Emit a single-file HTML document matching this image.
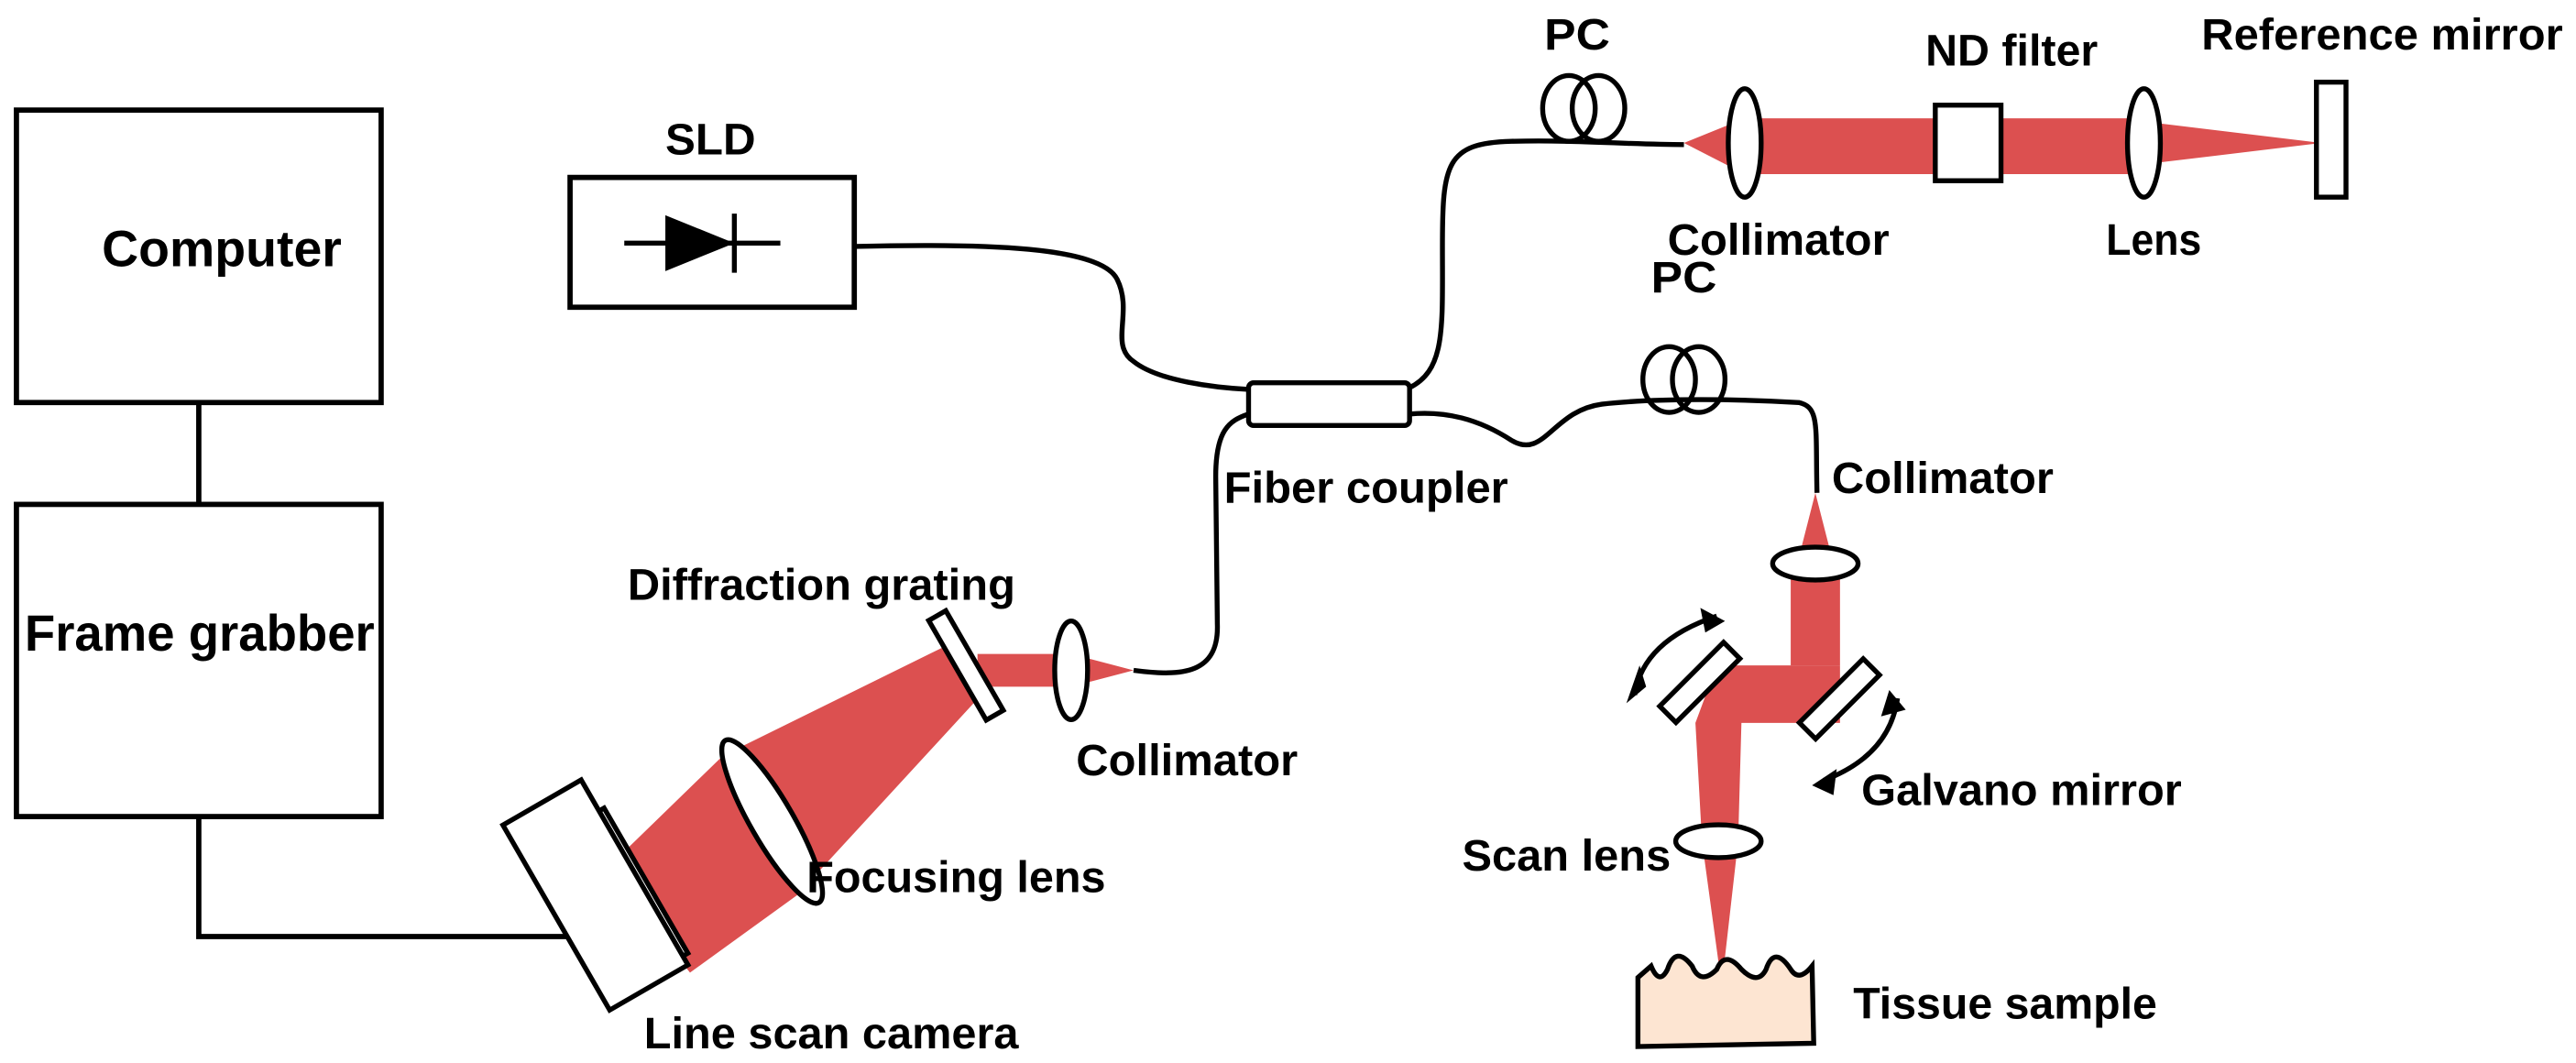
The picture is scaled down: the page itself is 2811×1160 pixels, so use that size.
<!DOCTYPE html>
<html><head><style>html,body{margin:0;padding:0;background:#fff}svg{display:block}text{font-family:"Liberation Sans",Arial,sans-serif;font-weight:bold;fill:#000}</style></head>
<body>
<svg width="2811" height="1160" viewBox="0 0 1568 647" preserveAspectRatio="none" xmlns="http://www.w3.org/2000/svg">
<g fill="none" stroke="#000" stroke-width="3.2">
<rect x="10" y="67" width="222" height="178"/>
<rect x="10" y="307" width="222" height="190"/>
<line x1="121" y1="245" x2="121" y2="307"/>
<polyline points="121,497 121,570 345,570"/>
<rect x="347" y="108" width="173" height="79"/>
</g>
<line x1="380" y1="148" x2="475" y2="148" stroke="#000" stroke-width="3"/>
<polygon points="405,131 447,148 405,165" fill="#000"/>
<line x1="447" y1="130" x2="447" y2="166" stroke="#000" stroke-width="3"/>
<g fill="#dc5050">
<polygon points="1025,87 1062,72 1300,72 1300,106 1062,106"/>
<polygon points="1305,74 1413,87 1305,100"/>
<polygon points="690,408 652,398 595,398 595,418 652,418"/>
<polygon points="578,392 440,460 370,528 420,592 485,545 600,420"/>
<polygon points="1105,300 1094,343 1116,343"/>
<rect x="1090" y="343" width="30" height="62"/>
<polygon points="1120,405 1120,440 1060,440 1058,512 1036,512 1032,440 1045,405"/>
<polygon points="1036,512 1048,600 1058,512"/>
</g>
<g fill="#fff" stroke="#000" stroke-width="3">
<ellipse cx="1062" cy="87" rx="10" ry="33"/>
<rect x="1178" y="64" width="40" height="46"/>
<ellipse cx="1305" cy="87" rx="10" ry="33"/>
<rect x="1410" y="50" width="18" height="70"/>
<ellipse cx="652" cy="408" rx="10" ry="30"/>
<rect x="582" y="370" width="12" height="70" transform="rotate(-30 588 405)"/>
<ellipse cx="470" cy="500" rx="13" ry="57" transform="rotate(-30 470 500)"/>
<rect x="382" y="488" width="12" height="102" transform="rotate(-30 388 539)"/>
<rect x="335" y="480" width="55" height="130" transform="rotate(-30 362 545)"/>
<ellipse cx="1105" cy="343" rx="26" ry="10"/>
<rect x="1028" y="388" width="14" height="55" transform="rotate(45 1035 415)"/>
<rect x="1113" y="398" width="14" height="55" transform="rotate(45 1120 425)"/>
<ellipse cx="1046" cy="512" rx="26" ry="10"/>
<rect x="760" y="233" width="98" height="26" rx="3"/>
</g>
<path d="M997,595 L997,637 L1104,635 L1103,588 Q1095,598 1090,590 Q1080,575 1075,590 Q1070,600 1060,590 Q1050,578 1045,590 Q1035,600 1030,588 Q1020,575 1015,590 Q1010,600 1005,588 Z" fill="#fde5d2" stroke="#000" stroke-width="3"/>
<g fill="none" stroke="#000" stroke-width="3">
<path d="M520,150 C600,148 670,150 680,170 C690,190 675,210 690,220 C705,232 740,236 760,237"/>
<path d="M858,236 C880,225 878,200 878,150 C878,100 880,87 920,86 C960,85 990,88 1025,88"/>
<ellipse cx="955" cy="66" rx="16" ry="20"/><ellipse cx="973" cy="66" rx="16" ry="20"/>
<path d="M858,252 C880,250 900,255 920,268 C940,280 945,250 975,246 C1010,242 1060,243 1095,245 C1108,248 1105,260 1106,300"/>
<ellipse cx="1016" cy="231" rx="16" ry="20"/><ellipse cx="1034" cy="231" rx="16" ry="20"/>
<path d="M760,252 C748,256 740,262 740,290 L741,380 C742,410 720,412 690,408"/>
<path d="M995,423 Q1000,390 1045,375"/>
<path d="M1110,475 Q1150,460 1155,425"/>
</g>
<g fill="#000">
<polygon points="1050,378 1035,370 1038,385"/>
<polygon points="990,428 1002,418 998,405 " />
<polygon points="1150,420 1160,432 1145,436"/>
<polygon points="1103,478 1118,468 1116,484"/>
</g>
<g font-size="27">
<text x="62" y="162" font-size="31" textLength="146" lengthAdjust="spacingAndGlyphs">Computer</text>
<text x="15" y="396" font-size="31" textLength="213" lengthAdjust="spacingAndGlyphs">Frame grabber</text>
<text x="405" y="94" textLength="55" lengthAdjust="spacingAndGlyphs">SLD</text>
<text x="940" y="30" textLength="40" lengthAdjust="spacingAndGlyphs">PC</text>
<text x="1172" y="40">ND filter</text>
<text x="1340" y="30" textLength="220" lengthAdjust="spacingAndGlyphs">Reference mirror</text>
<text x="1015" y="155" textLength="135" lengthAdjust="spacingAndGlyphs">Collimator</text>
<text x="1282" y="155" textLength="58" lengthAdjust="spacingAndGlyphs">Lens</text>
<text x="1005" y="178" textLength="40" lengthAdjust="spacingAndGlyphs">PC</text>
<text x="1115" y="300" textLength="135" lengthAdjust="spacingAndGlyphs">Collimator</text>
<text x="745" y="306" textLength="173" lengthAdjust="spacingAndGlyphs">Fiber coupler</text>
<text x="382" y="365" textLength="236" lengthAdjust="spacingAndGlyphs">Diffraction grating</text>
<text x="655" y="472" textLength="135" lengthAdjust="spacingAndGlyphs">Collimator</text>
<text x="491" y="543" textLength="182" lengthAdjust="spacingAndGlyphs">Focusing lens</text>
<text x="392" y="638" textLength="228" lengthAdjust="spacingAndGlyphs">Line scan camera</text>
<text x="1133" y="490" textLength="195" lengthAdjust="spacingAndGlyphs">Galvano mirror</text>
<text x="890" y="530" textLength="127" lengthAdjust="spacingAndGlyphs">Scan lens</text>
<text x="1128" y="620" textLength="185" lengthAdjust="spacingAndGlyphs">Tissue sample</text>
</g>
</svg>
</body></html>
